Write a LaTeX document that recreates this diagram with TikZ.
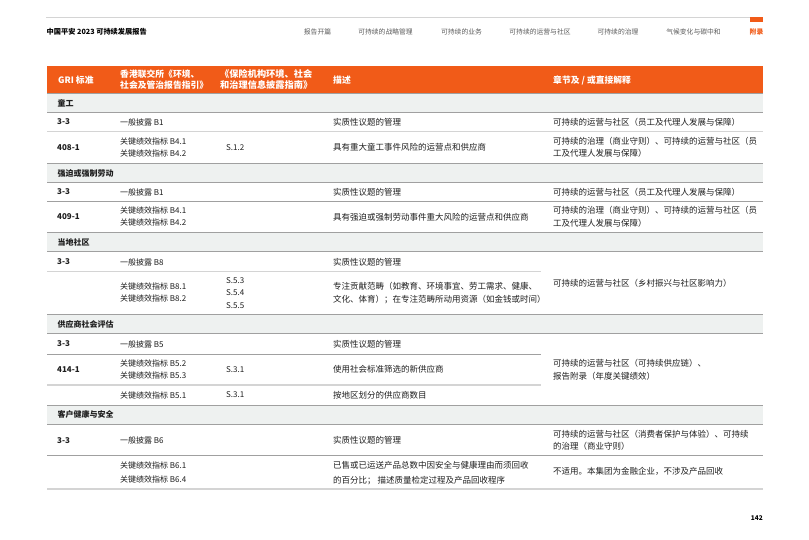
\documentclass[tikz,border=0pt]{standalone}
\usepackage{fontspec}
\setmainfont{Noto Sans CJK SC}
\usepackage{xcolor}
\definecolor{paorange}{RGB}{241,91,24}
\definecolor{secgray}{RGB}{238,241,240}
\definecolor{ruledark}{RGB}{160,160,160}
\definecolor{rulelight}{RGB}{212,212,212}
\definecolor{inkblack}{RGB}{30,30,30}
\definecolor{navgray}{RGB}{90,90,90}

\begin{document}
\begin{tikzpicture}[x=1pt,y=-1pt,
  navitem/.style={inner sep=0pt,text=navgray,font=\fontsize{6.8}{8}\selectfont},
  headtext/.style={anchor=west,inner sep=0pt,text=white,align=left,font=\fontsize{8.8}{11.7}\selectfont\bfseries},
  sectext/.style={anchor=west,inner sep=0pt,text=inkblack,font=\fontsize{8}{10}\selectfont\bfseries},
  codetext/.style={anchor=west,inner sep=0pt,text=inkblack,font=\fontsize{8}{12}\selectfont\bfseries},
  cell/.style={anchor=west,inner sep=0pt,text=inkblack,align=left,font=\fontsize{8}{12}\selectfont},
  desc/.style={anchor=west,inner sep=0pt,text=inkblack,align=left,font=\fontsize{8.5}{12.5}\selectfont},
  darkrule/.style={draw=ruledark,line width=0.8pt},
  softrule/.style={draw=rulelight,line width=1.4pt}]
\useasboundingbox (0,0) rectangle (809,540);

% page header
\draw[rulelight,line width=0.8pt] (46,17.3) -- (763,17.3);
\fill[paorange] (750,17.3) rectangle (763,21.7);
\node[anchor=west,inner sep=0pt,text=black,font=\fontsize{7.2}{8}\selectfont\bfseries] (title) at (46.5,32) {中国平安 2023 可持续发展报告};
\foreach \cx/\name [count=\i] in {317.5/报告开篇, 385.5/可持续的战略管理, 461.5/可持续的业务, 540/可持续的运营与社区, 618/可持续的治理, 693.5/气候变化与碳中和}
  \node[navitem] (nav\i) at (\cx,32) {\name};
\node[navitem,text=paorange,font=\fontsize{6.8}{8}\selectfont\bfseries] (appendix) at (756.5,32) {附录};

% table head
\fill[paorange] (47,66) rectangle (763,93);
\node[headtext] (hgri) at (58,80) {GRI 标准};
\node[headtext] (hhkex) at (120,79.5) {香港联交所《环境、\\社会及管治报告指引》};
\node[headtext,align=center,font=\fontsize{9.2}{11.7}\selectfont\bfseries] (hcbirc) at (220,79.5) {《保险机构环境、社会\\和治理信息披露指南》};
\node[headtext] (hdesc) at (333,80) {描述};
\node[headtext] (hchap) at (553,80) {章节及 / 或直接解释};

% section bands
\fill[secgray] (47,93) rectangle (763,112.3);
\fill[secgray] (47,163.3) rectangle (763,182.3);
\fill[secgray] (47,232.3) rectangle (763,251.7);
\fill[secgray] (47,314) rectangle (763,333.3);
\fill[secgray] (47,405) rectangle (763,424);
\node[sectext] (sec1) at (57.3,103) {童工};
\node[sectext] (sec2) at (57.3,173) {强迫或强制劳动};
\node[sectext] (sec3) at (57.3,242.3) {当地社区};
\node[sectext] (sec4) at (57.3,324) {供应商社会评估};
\node[sectext] (sec5) at (57.3,414.5) {客户健康与安全};

% rules
\draw[darkrule] (47,93) -- (763,93);
\draw[darkrule] (47,112.3) -- (763,112.3);
\draw[softrule] (47,131.3) -- (763,131.3);
\draw[darkrule] (47,163.3) -- (763,163.3);
\draw[darkrule] (47,182.3) -- (763,182.3);
\draw[darkrule] (47,201.3) -- (763,201.3);
\draw[darkrule] (47,232.3) -- (763,232.3);
\draw[darkrule] (47,251.7) -- (763,251.7);
\draw[softrule] (47,271.7) -- (541,271.7);
\draw[darkrule] (47,314) -- (763,314);
\draw[darkrule] (47,333.3) -- (763,333.3);
\draw[darkrule] (47,354.3) -- (541,354.3);
\draw[softrule] (47,385) -- (541,385);
\draw[darkrule] (47,405) -- (763,405);
\draw[darkrule] (47,424) -- (763,424);
\draw[darkrule] (47,455) -- (763,455);
\draw[softrule] (47,489) -- (763,489);

% child labour
\node[codetext] (a1) at (57,122) {3-3};
\node[cell] (a2) at (120,122) {一般披露 B1};
\node[desc] (a4) at (333,122) {实质性议题的管理};
\node[desc] (a5) at (553,122) {可持续的运营与社区（员工及代理人发展与保障）};
\node[codetext] (b1) at (57,147.3) {408-1};
\node[cell] (b2) at (120,147.3) {关键绩效指标 B4.1\\关键绩效指标 B4.2};
\node[cell] (b3) at (226,147.3) {S.1.2};
\node[desc] (b4) at (333,147.3) {具有重大童工事件风险的运营点和供应商};
\node[desc] (b5) at (553,147.3) {可持续的治理（商业守则）、可持续的运营与社区（员\\工及代理人发展与保障）};

% forced labour
\node[codetext] (c1) at (57,192) {3-3};
\node[cell] (c2) at (120,192) {一般披露 B1};
\node[desc] (c4) at (333,192) {实质性议题的管理};
\node[desc] (c5) at (553,192) {可持续的运营与社区（员工及代理人发展与保障）};
\node[codetext] (d1) at (57,216.8) {409-1};
\node[cell] (d2) at (120,216.8) {关键绩效指标 B4.1\\关键绩效指标 B4.2};
\node[desc] (d4) at (333,216.8) {具有强迫或强制劳动事件重大风险的运营点和供应商};
\node[desc] (d5) at (553,216.8) {可持续的治理（商业守则）、可持续的运营与社区（员\\工及代理人发展与保障）};

% local communities
\node[codetext] (e1) at (57,262) {3-3};
\node[cell] (e2) at (120,262) {一般披露 B8};
\node[desc] (e4) at (333,262) {实质性议题的管理};
\node[desc] (e5) at (553,283) {可持续的运营与社区（乡村振兴与社区影响力）};
\node[cell] (f2) at (120,292.8) {关键绩效指标 B8.1\\关键绩效指标 B8.2};
\node[cell,font=\fontsize{8}{12.5}\selectfont] (f3) at (226,292.8) {S.5.3\\S.5.4\\S.5.5};
\node[desc] (f4) at (333,292.8) {专注贡献范畴（如教育、环境事宜、劳工需求、健康、\\文化、体育）；在专注范畴所动用资源（如金钱或时间）};

% supplier social assessment
\node[codetext] (g1) at (57,344) {3-3};
\node[cell] (g2) at (120,344) {一般披露 B5};
\node[desc] (g4) at (333,344) {实质性议题的管理};
\node[desc] (g5) at (553,370) {可持续的运营与社区（可持续供应链）、\\报告附录（年度关键绩效）};
\node[codetext] (h1) at (57,369.7) {414-1};
\node[cell] (h2) at (120,369.7) {关键绩效指标 B5.2\\关键绩效指标 B5.3};
\node[cell] (h3) at (226,369.7) {S.3.1};
\node[desc] (h4) at (333,369.7) {使用社会标准筛选的新供应商};
\node[cell] (i2) at (120,395) {关键绩效指标 B5.1};
\node[cell] (i3) at (226,395) {S.3.1};
\node[desc] (i4) at (333,395) {按地区划分的供应商数目};

% customer health and safety
\node[codetext] (j1) at (57,440.5) {3-3};
\node[cell] (j2) at (120,440.5) {一般披露 B6};
\node[desc] (j4) at (333,440.5) {实质性议题的管理};
\node[desc] (j5) at (553,440.5) {可持续的运营与社区（消费者保护与体验）、可持续\\的治理（商业守则）};
\node[cell,font=\fontsize{8}{13.5}\selectfont] (k2) at (120,472.5) {关键绩效指标 B6.1\\关键绩效指标 B6.4};
\node[desc,font=\fontsize{8.5}{14.5}\selectfont] (k4) at (333,473) {已售或已运送产品总数中因安全与健康理由而须回收\\的百分比； 描述质量检定过程及产品回收程序};
\node[desc] (k5) at (553,471.5) {不适用。本集团为金融企业，不涉及产品回收};

\node[anchor=east,inner sep=0pt,text=black,font=\fontsize{6.5}{7}\selectfont\bfseries] (pageno) at (763,518) {142};
\end{tikzpicture}
\end{document}
